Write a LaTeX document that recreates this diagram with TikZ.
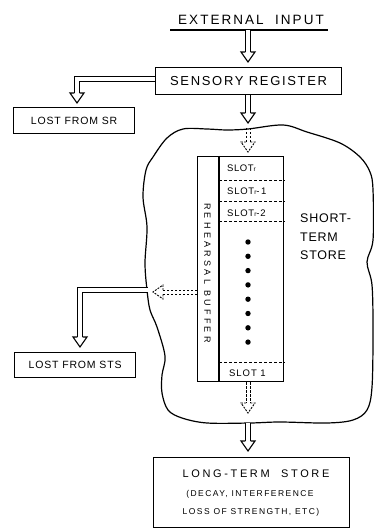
\documentclass[tikz,border=0pt]{standalone}
\usepackage{fontspec}
\setmainfont{Liberation Sans}
\usetikzlibrary{calc}
\newcommand{\fsz}[3]{\fontsize{#1}{#2}\selectfont\addfontfeature{LetterSpace=#3}}
\begin{document}
\begin{tikzpicture}[x=1pt,y=-1pt,
  boxst/.style={draw, rectangle, inner sep=0pt, anchor=north west, line width=1.2pt},
  lbl/.style={inner sep=0pt, anchor=base},
  lblw/.style={inner sep=0pt, anchor=base west},
  shaft/.style={draw, line width=1.1pt, double=white, double distance=4pt},
  dl/.style={draw, line width=0.9pt, dash pattern=on 2.5pt off 1.5pt},
  divline/.style={line width=1pt, dash pattern=on 3pt off 2pt},
  pics/hhead/.style={code={\draw[line width=1.1pt, line join=miter] (-2.55pt,10pt) -- (-7pt,10pt) -- (0pt,0pt) -- (7pt,10pt) -- (2.55pt,10pt);}},
  pics/dhead/.style={code={\draw[line width=0.9pt, dash pattern=on 2pt off 1.2pt] (-2pt,10pt) -- (-7pt,10pt) -- (0pt,0pt) -- (7pt,10pt) -- (2pt,10pt);}},
]
\useasboundingbox (0,0) rectangle (374,529);

% cloud (short-term store boundary)
\draw[line width=1.2pt] plot[smooth cycle, tension=0.55] coordinates {
 (153,157) (167,138) (183,129) (207,129) (227,130) (248,129) (283,125) (307,132)
 (340,143) (360,157) (370,172) (373,190) (373,240) (367,262) (372,285) (373,330)
 (372,387) (367,410) (353,420) (327,423) (280,422) (250,423) (207,423) (182,418)
 (168,410) (162,393) (162,375) (165,356) (157,327) (150,310) (147,290) (145,263)
 (147,227) (143,197) (146,170)};

% named points
\coordinate (ul1) at (170,30);
\coordinate (ul2) at (328,30);
\coordinate (ulc) at (248,30);
\coordinate (t1) at (248,62);
\coordinate (t2) at (248,123);
\coordinate (t3) at (77,103);
\coordinate (ctop) at (248,128);
\coordinate (t4) at (248,152);
\coordinate (t5) at (153,292);
\coordinate (cleft) at (148,290);
\coordinate (t6) at (80,347);
\coordinate (t7) at (248,413);
\coordinate (cbot) at (248,423);
\coordinate (t8) at (248,451);

% texts and boxes
\node[lbl, font=\fsz{13.5}{15}{15}] (ext) at (251,25) {EXTERNAL\ \ INPUT};
\draw[line width=1.4pt] (ul1) -- (ul2);

\node[boxst, minimum width=186pt, minimum height=27pt, font=\fsz{13}{15}{13}] (sr) at (155,67) {SENSORY REGISTER};
\node[boxst, minimum width=121pt, minimum height=26pt, font=\fsz{10.5}{12}{8}] (lsr) at (13,107) {LOST FROM SR};
\node[boxst, minimum width=121pt, minimum height=25pt, font=\fsz{10.5}{12}{8}] (lsts) at (14,352) {LOST FROM STS};
\node[boxst, minimum width=86pt, minimum height=225pt] (buf) at (197,156) {};
\node[boxst, minimum width=196pt, minimum height=70pt] (ltm) at (153,457) {};

% rehearsal buffer inner column and slots
\coordinate (bin) at (219,156);
\draw[line width=1.1pt] (bin) -- (bin |- buf.south);
\draw[divline] (219,180.5) -- (buf.east |- 0,180.5);
\draw[divline] (219,201.5) -- (buf.east |- 0,201.5);
\draw[divline] (219,221) -- (buf.east |- 0,221);
\draw[divline] (219,362.5) -- (buf.east |- 0,362.5);

\node[rotate=-90, inner sep=0pt, font=\fsz{9}{9}{37}] (rb) at (207.5,273) {REHEARSAL BUFFER};

\node[lblw, font=\fsz{9.5}{10}{6}] (s1) at (227,172) {SLOT{\fontsize{6.5}{7}\selectfont r}};
\node[lblw, font=\fsz{9.5}{10}{8}] (s2) at (227,194.5) {SLOT{\fontsize{6.5}{7}\selectfont r}-\,1};
\node[lblw, font=\fsz{9.5}{10}{8}] (s3) at (227,216) {SLOT{\fontsize{6.5}{7}\selectfont r}-2};
\node[lblw, font=\fsz{9.5}{10}{10}] (s4) at (229,376.5) {SLOT\ 1};

\foreach \i in {0,...,7} {
  \fill (248,{242+14.3*\i}) circle (2.7pt);
}

\node[lblw, font=\fsz{12.5}{14}{6}] (st1) at (300,222.5) {SHORT-};
\node[lblw, font=\fsz{12.5}{14}{6}] (st2) at (300,241) {TERM};
\node[lblw, font=\fsz{12.5}{14}{6}] (st3) at (300,259.5) {STORE};

\node[lbl, font=\fsz{11}{12}{24}] (lt1) at (256,477) {LONG-TERM\ \ STORE};
\node[lbl, font=\fsz{8.5}{10}{17}] (lt2) at (250,496.5) {(DECAY, INTERFERENCE};
\node[lbl, font=\fsz{8.5}{10}{17}] (lt3) at (251,514.5) {LOSS OF STRENGTH, ETC)};

% hollow arrows
\draw[shaft] (ulc) -- ([yshift=10pt]t1);
\pic at (t1) {hhead};

\draw[shaft] (sr.south -| t2) -- ([yshift=10pt]t2);
\pic at (t2) {hhead};

\draw[shaft] ([yshift=2pt]sr.west) -| ([yshift=10pt]t3);
\pic at (t3) {hhead};

% dashed hollow arrows (two parallel dashed lines)
\draw[dl] ([xshift=-2pt]ctop) -- ([xshift=-2pt,yshift=10pt]t4);
\draw[dl] ([xshift=2pt]ctop) -- ([xshift=2pt,yshift=10pt]t4);
\pic at (t4) {dhead};

\draw[dl] ([yshift=2pt]buf.west |- t5) -- ([xshift=10pt,yshift=2pt]t5);
\draw[dl] ([yshift=-2pt]buf.west |- t5) -- ([xshift=10pt,yshift=-2pt]t5);
\pic[rotate=-90] at (t5) {dhead};

\draw[shaft] (cleft) -| ([yshift=10pt]t6);
\pic at (t6) {hhead};

\draw[dl] ([xshift=-2pt]buf.south -| t7) -- ([xshift=-2pt,yshift=10pt]t7);
\draw[dl] ([xshift=2pt]buf.south -| t7) -- ([xshift=2pt,yshift=10pt]t7);
\pic at (t7) {dhead};

\draw[shaft] (cbot) -- ([yshift=10pt]t8);
\pic at (t8) {hhead};
\end{tikzpicture}
\end{document}
